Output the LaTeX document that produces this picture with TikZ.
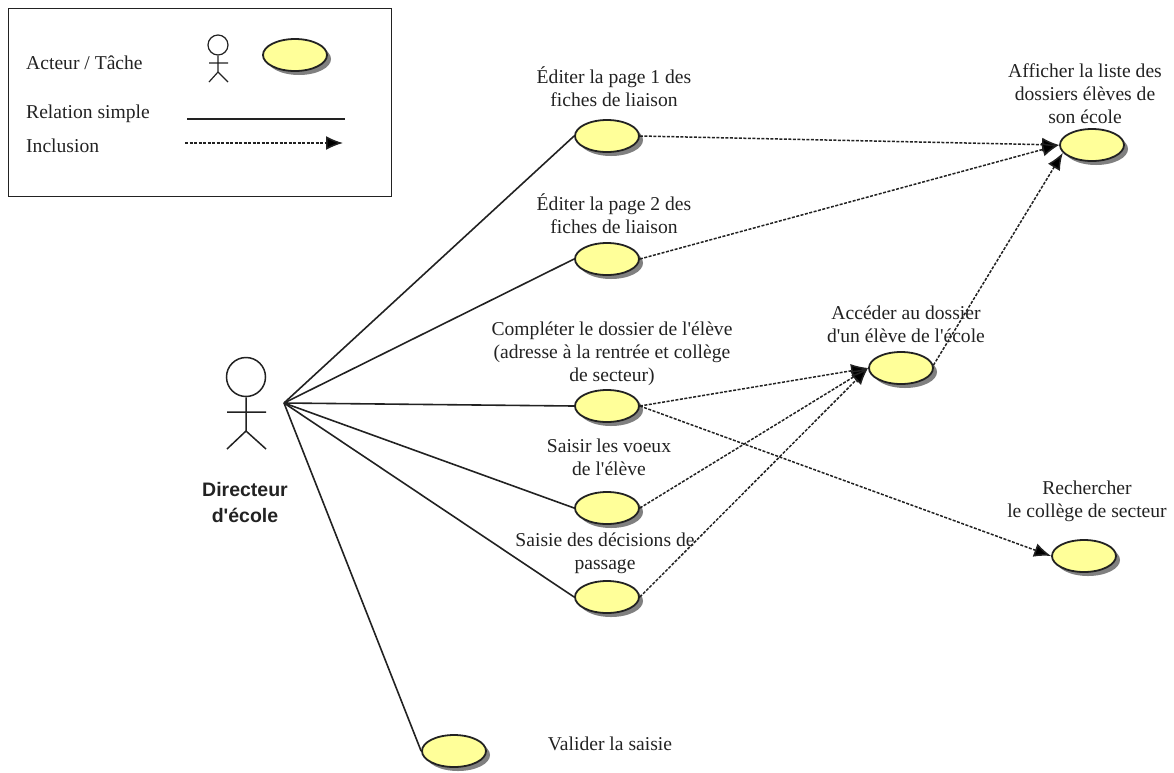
\documentclass[tikz,border=0pt]{standalone}
\usepackage{fontspec}
\newfontfamily\labelserif{Liberation Serif}
\newfontfamily\labelsans{Liberation Sans}
\usetikzlibrary{shapes.geometric,shadows,arrows.meta}
\definecolor{uyellow}{HTML}{FFFF99}
\definecolor{ink}{HTML}{222222}
\tikzset{
  usecase/.style={shape=ellipse,draw=ink,line width=1.8pt,fill=uyellow,inner sep=0pt,
    minimum width=64pt,minimum height=32pt,
    general shadow={fill=black!50,shadow xshift=4pt,shadow yshift=-4pt}},
  lbl/.style={align=center,inner sep=0pt,text=ink,font=\labelserif\fontsize{19.6}{23}\selectfont},
  leglbl/.style={anchor=west,inner sep=0pt,text=ink,font=\labelserif\fontsize{19.6}{22}\selectfont},
  simple/.style={draw=ink,line width=1.6pt},
  incl/.style={draw=ink,line width=1.5pt,dash pattern=on 3pt off 1.5pt,-{Latex[length=17pt,width=14pt,fill=black]}},
  stick/.style={draw=ink,line width=1.2pt}
}
\begin{document}
\begin{tikzpicture}[x=1pt,y=-1pt]
\useasboundingbox (0,0) rectangle (1174,772);
% legend
\node[draw=ink,line width=1.4pt,minimum width=383pt,minimum height=188pt,inner sep=0pt,anchor=north west] (legend) at (8,8) {};
\node[leglbl] (lact) at (26,63) {Acteur / Tâche};
\node[leglbl] (lrel) at (26,114) {Relation simple};
\node[leglbl] (linc) at (26,146) {Inclusion};
\node[usecase] (lcase) at (295,55) {};
\node[draw=ink,line width=1.2pt,shape=circle,minimum size=20pt,inner sep=0pt] (lhead) at (218,45) {};
\coordinate (lneck) at (218,72);
\coordinate (larmL) at (209,63);
\coordinate (larmR) at (228,63);
\coordinate (llegL) at (209,82);
\coordinate (llegR) at (228,82);
\draw[stick] (lhead) -- (lneck) -- (llegL) (lneck) -- (llegR) (larmL) -- (larmR);
\coordinate (sa) at (187,119);
\coordinate (sb) at (345,119);
\coordinate (ia) at (185,143);
\coordinate (ib) at (343,143);
\draw[simple] (sa) -- (sb);
\draw[incl] (ia) -- (ib);
% actor
\node[draw=ink,line width=1.5pt,shape=circle,minimum size=39pt,inner sep=0pt] (head) at (246,377) {};
\coordinate (crotch) at (246,431);
\coordinate (armL) at (227,412);
\coordinate (armR) at (266,412);
\coordinate (legL) at (227,449);
\coordinate (legR) at (266,449);
\draw[stick,line width=1.5pt] (head) -- (crotch) -- (legL) (crotch) -- (legR) (armL) -- (armR);
\node[inner sep=0pt,align=center,text=ink,font=\labelsans\bfseries\fontsize{19.5}{26}\selectfont] (actor) at (245,503) {Directeur\\d'école};
\coordinate (hub) at (284,403);
% use cases
\node[usecase] (e1) at (607,136) {};
\node[usecase] (e2) at (607,259) {};
\node[usecase] (e3) at (607,406) {};
\node[usecase] (e4) at (607,508) {};
\node[usecase] (e5) at (607,597) {};
\node[usecase] (val) at (454,751) {};
\node[usecase] (acc) at (901,368) {};
\node[usecase] (aff) at (1092,145) {};
\node[usecase] (rech) at (1084,556) {};
% labels
\node[lbl] (t1) at (614,87) {Éditer la page 1 des\\fiches de liaison};
\node[lbl] (t2) at (614,214) {Éditer la page 2 des\\fiches de liaison};
\node[lbl] (t3) at (612,354) {Compléter le dossier de l'élève\\(adresse à la rentrée et collège\\de secteur)};
\node[lbl] (t4) at (609,457) {Saisir les voeux\\de l'élève};
\node[lbl] (t5) at (605,553) {Saisie des décisions de\\passage};
\node[lbl] (t6) at (610,744) {Valider la saisie};
\node[lbl] (t7) at (906,324) {Accéder au dossier\\d'un élève de l'école};
\node[lbl] (t8) at (1085,94) {Afficher la liste des\\dossiers élèves de\\son école};
\node[lbl] (t9) at (1087,501) {Rechercher\\le collège de secteur};
% simple relations
\draw[simple] (hub) -- (e1.west);
\draw[simple] (hub) -- (e2.west);
\draw[simple] (hub) -- (e3.west);
\draw[simple] (hub) -- (e4.west);
\draw[simple] (hub) -- (e5.west);
\draw[simple] (hub) -- (val.west);
% inclusions
\draw[incl] (e1.east) -- (aff.west);
\draw[incl] (e2.east) -- (aff.west);
\draw[incl] (acc.5) -- (aff.195);
\draw[incl] (e3.east) -- (acc.west);
\draw[incl] (e4.east) -- (acc.west);
\draw[incl] (e5.east) -- (acc.west);
\draw[incl] (e3.east) -- (rech.west);
\end{tikzpicture}
\end{document}
